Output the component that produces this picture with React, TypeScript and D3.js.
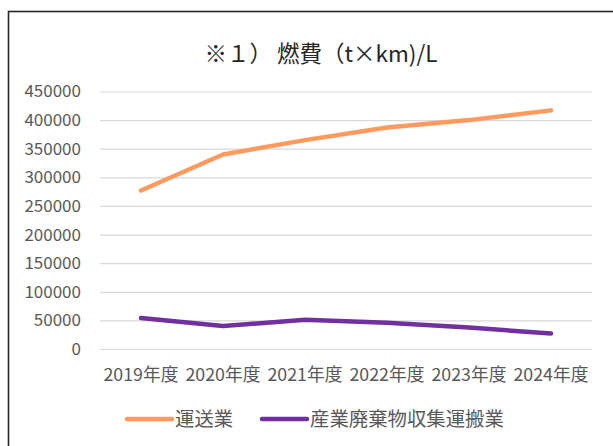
import { useRef, useEffect } from 'react';
import * as d3 from 'd3';

const years = ['2019年度', '2020年度', '2021年度', '2022年度', '2023年度', '2024年度'];
const unsoValues = [277000, 340000, 365000, 387000, 400000, 417000];
const sanpaiValues = [54000, 40000, 51000, 46000, 37500, 27000];
const seriesNames = ['運送業', '産業廃棄物収集運搬業'];
const seriesColors = ['#FF9A5E', '#7030A0'];
const yTicks = [0, 50000, 100000, 150000, 200000, 250000, 300000, 350000, 400000, 450000];

const font = '"Noto Sans CJK JP", "Noto Sans", sans-serif';

export default function App() {
  const gx = useRef<SVGGElement>(null),
    gy = useRef<SVGGElement>(null),
    linesRef = useRef<SVGGElement>(null);

  const width = 613,
    height = 446,
    marginTop = 91.5,
    marginRight = 21,
    marginBottom = 97,
    marginLeft = 100;

  const x = d3
    .scaleBand()
    .domain(years)
    .range([marginLeft, width - marginRight]);

  const y = d3
    .scaleLinear()
    .domain([0, 450000])
    .range([height - marginBottom, marginTop]);

  const series = [unsoValues, sanpaiValues];

  useEffect(() => {
    const yAxis = d3
      .axisLeft(y)
      .tickValues(yTicks)
      .tickFormat((d) => String(d))
      .tickSize(-(width - marginLeft - marginRight))
      .tickPadding(19);
    const g = d3.select(gy.current!).call(yAxis);
    g.select('.domain').remove();
    g.selectAll('.tick line').attr('stroke', '#d9d9d9').attr('stroke-width', 1.2);
    g.selectAll('.tick text')
      .attr('fill', '#595959')
      .style('font-family', font)
      .style('font-size', '17px');

    const xAxis = d3.axisBottom(x).tickSize(0).tickPadding(19);
    const gX = d3.select(gx.current!).call(xAxis);
    gX.select('.domain').remove();
    gX.selectAll('.tick text')
      .attr('fill', '#595959')
      .style('font-family', font)
      .style('font-size', '17.8px');

    const line = d3
      .line<number>()
      .x((_, i) => x(years[i])! + x.bandwidth() / 2)
      .y((d) => y(d));

    d3.select(linesRef.current!)
      .selectAll('path')
      .data(series)
      .join('path')
      .attr('d', (d) => line(d))
      .attr('fill', 'none')
      .attr('stroke', (_, i) => seriesColors[i])
      .attr('stroke-width', 4.5)
      .attr('stroke-linecap', 'round')
      .attr('stroke-linejoin', 'round');
  }, []);

  return (
    <svg
      width={width}
      height={height}
      style={{ position: 'absolute', left: 0, top: 0, background: '#fff' }}
    >
      <rect x={8.5} y={11.5} width={640} height={460} fill="#fff" stroke="#262626" strokeWidth="1.6" />
      <text
        x={321}
        y={62}
        textAnchor="middle"
        fontFamily={font}
        fontSize="22.5px"
        fill="#262626"
      >
        ※１） 燃費（t×km)/L
      </text>
      <g ref={gy} transform={`translate(${marginLeft},0)`} />
      <g ref={gx} transform={`translate(0,${height - marginBottom})`} />
      <g ref={linesRef} />
      <g transform="translate(127,419)">
        {seriesNames.map((name, i) => (
          <g key={name} transform={`translate(${i * 135},0)`}>
            <line x1={0} x2={45} y1={0} y2={0} stroke={seriesColors[i]} strokeWidth={4.5} strokeLinecap="round" />
            <text x={48} y={6.5} fontFamily={font} fontSize="19.4px" fill="#595959">
              {name}
            </text>
          </g>
        ))}
      </g>
    </svg>
  );
}
